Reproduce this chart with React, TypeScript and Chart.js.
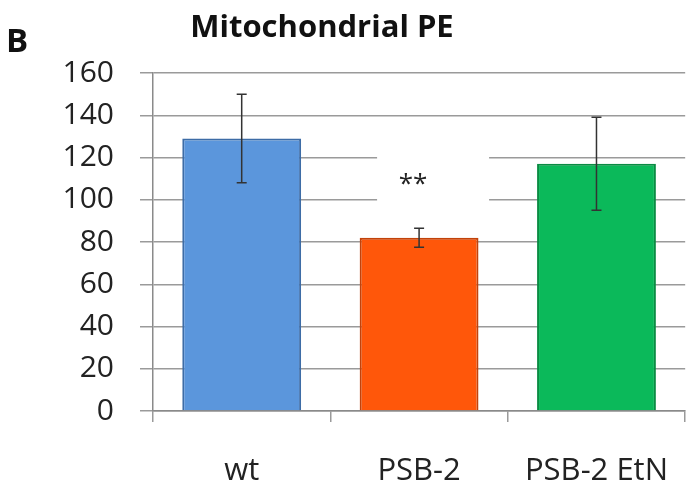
import React, { useEffect, useRef } from "react";
import { Chart, registerables } from "chart.js";

Chart.register(...registerables);

const categories = ["wt", "PSB-2", "PSB-2 EtN"];
const values = [129, 82, 117];
const errors = [21, 4.5, 22];
const significance = ["", "**", ""];
const fillColors = ["#5b96dc", "#ff570a", "#0bb95a"];
const borderColors = ["#3d6ca6", "#c2420a", "#0a8c43"];
const yTicks = [0, 20, 40, 60, 80, 100, 120, 140, 160];
const title = "Mitochondrial PE";
const panelLetter = "B";

const FONT = "'Open Sans', sans-serif";

const decorPlugin = {
  id: "decor",
  beforeDatasetsDraw(chart: any) {
    const ctx = chart.ctx;
    const meta = chart.getDatasetMeta(0);
    const y = chart.scales.y;
    ctx.save();
    significance.forEach((s, i) => {
      if (!s) return;
      const bar = meta.data[i];
      const top = y.getPixelForValue(135);
      const bottom = y.getPixelForValue(88);
      ctx.fillStyle = "#ffffff";
      ctx.fillRect(bar.x - 42, top, 112, bottom - top);
      ctx.fillStyle = "#222";
      ctx.font = `26px ${FONT}`;
      ctx.textAlign = "center";
      ctx.textBaseline = "middle";
      ctx.fillText(s, bar.x - 6, y.getPixelForValue(107));
    });
    ctx.restore();
  },
  afterDatasetsDraw(chart: any) {
    const ctx = chart.ctx;
    const meta = chart.getDatasetMeta(0);
    const y = chart.scales.y;
    ctx.save();
    ctx.strokeStyle = "#333";
    ctx.lineWidth = 1.5;
    meta.data.forEach((bar: any, i: number) => {
      const yt = y.getPixelForValue(values[i] + errors[i]);
      const yb = y.getPixelForValue(values[i] - errors[i]);
      ctx.beginPath();
      ctx.moveTo(bar.x, yt);
      ctx.lineTo(bar.x, yb);
      ctx.moveTo(bar.x - 5, yt);
      ctx.lineTo(bar.x + 5, yt);
      ctx.moveTo(bar.x - 5, yb);
      ctx.lineTo(bar.x + 5, yb);
      ctx.stroke();
    });
    ctx.restore();
  },
  afterDraw(chart: any) {
    const ctx = chart.ctx;
    ctx.save();
    ctx.fillStyle = "#111";
    ctx.font = `bold 33px ${FONT}`;
    ctx.textBaseline = "alphabetic";
    ctx.textAlign = "left";
    ctx.fillText(panelLetter, 6, 52);
    ctx.font = `bold 31px ${FONT}`;
    ctx.textAlign = "center";
    ctx.fillText(title, 322, 37);
    ctx.restore();
  },
};

export default function App() {
  const ref = useRef<HTMLCanvasElement>(null);
  useEffect(() => {
    if (!ref.current) return;
    const chart = new Chart(ref.current, {
      type: "bar",
      data: {
        labels: categories,
        datasets: [
          {
            data: values,
            backgroundColor: fillColors,
            borderColor: borderColors,
            borderWidth: 2,
            categoryPercentage: 1,
            barPercentage: 0.67,
          },
        ],
      },
      options: {
        animation: false,
        responsive: false,
        maintainAspectRatio: false,
        layout: { padding: { left: 0, right: 0, top: 73, bottom: 0 } },
        plugins: {
          legend: { display: false },
          tooltip: { enabled: false },
          title: { display: false },
        },
        scales: {
          x: {
            offset: true,
            afterFit: (s: any) => {
              s.height = 78;
            },
            grid: {
              display: true,
              drawOnChartArea: false,
              drawTicks: true,
              tickLength: 11,
              color: "#9a9a9a",
              lineWidth: 1.5,
              offset: true,
            },
            border: { display: true, color: "#8a8a8a", width: 1.5 },
            ticks: {
              color: "#222",
              font: { family: FONT, size: 31 },
              padding: 31,
              maxRotation: 0,
            },
          },
          y: {
            min: 0,
            max: 160,
            afterFit: (s: any) => {
              s.width = 153;
            },
            afterBuildTicks: (axis: any) => {
              axis.ticks = yTicks.map((v) => ({ value: v }));
            },
            grid: {
              color: "#9a9a9a",
              lineWidth: 1.5,
              drawTicks: true,
              tickLength: 13,
            },
            border: { display: true, color: "#8a8a8a", width: 1.5 },
            ticks: {
              color: "#222",
              font: { family: FONT, size: 30 },
              padding: 26,
            },
          },
        },
      },
      plugins: [decorPlugin],
    });
    return () => chart.destroy();
  }, []);
  return (
    <div style={{ position: "absolute", left: 0, top: 0, width: 699, height: 489, background: "#fff", overflow: "hidden" }}>
      <canvas ref={ref} width={699} height={489} style={{ width: 699, height: 489 }} />
    </div>
  );
}
